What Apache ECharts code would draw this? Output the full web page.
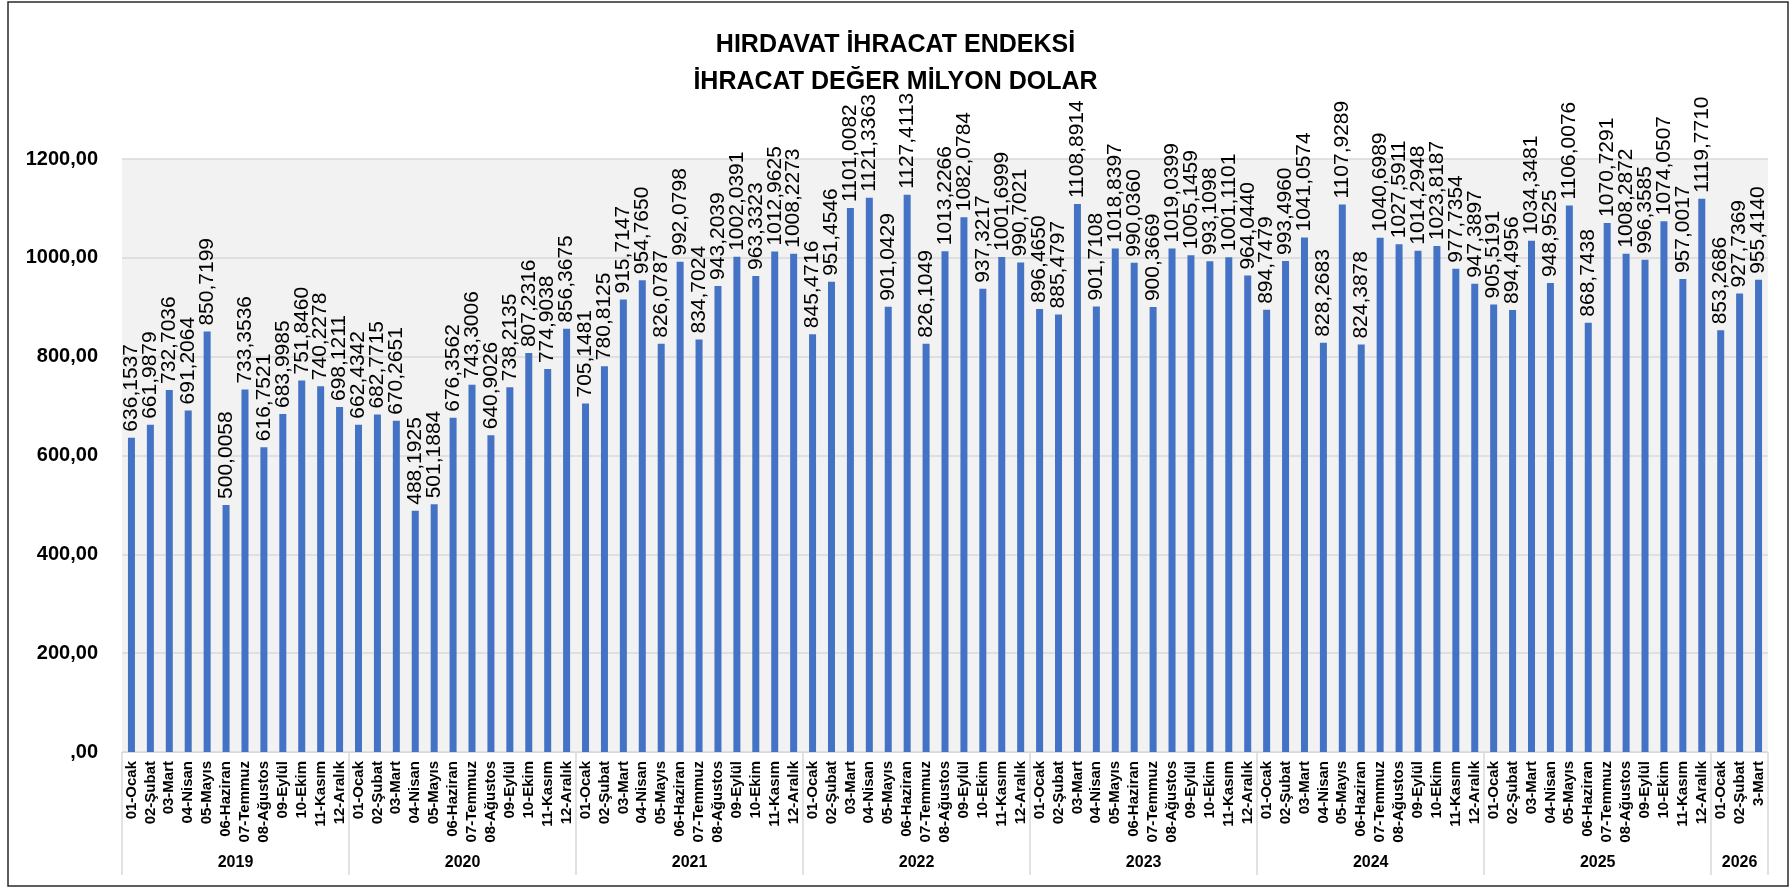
<!DOCTYPE html>
<html>
<head>
<meta charset="utf-8">
<script src="https://cdn.jsdelivr.net/npm/echarts@6/dist/echarts.min.js"></script>
<style>
  html, body { margin: 0; padding: 0; background: #ffffff; }
  #chart { width: 1791px; height: 888px; }
</style>
</head>
<body>
<div id="chart"></div>
<script>
// Month labels (full year) and the partial final year
const months = ['01-Ocak', '02-Şubat', '03-Mart', '04-Nisan', '05-Mayıs', '06-Haziran',
                '07-Temmuz', '08-Ağustos', '09-Eylül', '10-Ekim', '11-Kasım', '12-Aralık'];
const months2026 = ['01-Ocak', '02-Şubat', '3-Mart'];

const years = ['2019', '2020', '2021', '2022', '2023', '2024', '2025', '2026'];

// Monthly export value, million USD
const v2019 = [636.1537, 661.9879, 732.7036, 691.2064, 850.7199, 500.0058, 733.3536, 616.7521, 683.9985, 751.8460, 740.2278, 698.1211];
const v2020 = [662.4342, 682.7715, 670.2651, 488.1925, 501.1884, 676.3562, 743.3006, 640.9026, 738.2135, 807.2316, 774.9038, 856.3675];
const v2021 = [705.1481, 780.8125, 915.7147, 954.7650, 826.0787, 992.0798, 834.7024, 943.2039, 1002.0391, 963.3323, 1012.9625, 1008.2273];
const v2022 = [845.4716, 951.4546, 1101.0082, 1121.3363, 901.0429, 1127.4113, 826.1049, 1013.2266, 1082.0784, 937.3217, 1001.6999, 990.7021];
const v2023 = [896.4650, 885.4797, 1108.8914, 901.7108, 1018.8397, 990.0360, 900.3669, 1019.0399, 1005.1459, 993.1098, 1001.1101, 964.0440];
const v2024 = [894.7479, 993.4960, 1041.0574, 828.2683, 1107.9289, 824.3878, 1040.6989, 1027.5911, 1014.2948, 1023.8187, 977.7354, 947.3897];
const v2025 = [905.5191, 894.4956, 1034.3481, 948.9525, 1106.0076, 868.7438, 1070.7291, 1008.2872, 996.3585, 1074.0507, 957.0017, 1119.7710];
const v2026 = [853.2686, 927.7369, 955.4140];

const yearValues = [v2019, v2020, v2021, v2022, v2023, v2024, v2025, v2026];
const yearMonths = [months, months, months, months, months, months, months, months2026];

const categories = yearMonths.flat();
const values = yearValues.flat();

// Group boundaries and centres for the year row under the month labels
const boundaries = [0];
const centers = [];
yearValues.forEach(arr => {
  const start = boundaries[boundaries.length - 1];
  centers.push(start + arr.length / 2);
  boundaries.push(start + arr.length);
});

const FONT = "'Liberation Sans', Arial, sans-serif";
const fmtComma = (v, d) => v.toFixed(d).replace('.', ',');

const chart = echarts.init(document.getElementById('chart'), null, { renderer: 'canvas' });

chart.setOption({
  animation: false,
  backgroundColor: '#ffffff',
  title: {
    text: 'HIRDAVAT İHRACAT ENDEKSİ\nİHRACAT DEĞER MİLYON DOLAR',
    left: 'center',
    top: 22,
    textStyle: {
      fontFamily: FONT,
      fontSize: 25,
      fontWeight: 'bold',
      color: '#000000',
      lineHeight: 37,
      align: 'center'
    }
  },
  graphic: [{
    type: 'rect',
    shape: { x: 8, y: 2, width: 1780, height: 884 },
    style: { fill: 'none', stroke: '#2a2a2a', lineWidth: 1.5 },
    z: 100
  }],
  grid: {
    left: 122,
    right: 23,
    top: 159,
    bottom: 136,
    show: true,
    backgroundColor: '#f2f2f2',
    borderWidth: 0
  },
  xAxis: [{
    type: 'category',
    data: categories,
    boundaryGap: true,
    axisLine: { show: true, lineStyle: { color: '#d9d9d9', width: 1 } },
    axisTick: { show: false },
    axisLabel: {
      interval: 0,
      rotate: 90,
      margin: 9,
      fontFamily: FONT,
      fontSize: 15,
      fontWeight: 'bold',
      color: '#000000'
    }
  }, {
    type: 'value',
    position: 'bottom',
    min: 0,
    max: values.length,
    axisLine: { show: false },
    splitLine: { show: false },
    axisTick: {
      show: true,
      customValues: boundaries,
      length: 123,
      lineStyle: { color: '#d9d9d9', width: 1.5 }
    },
    axisLabel: {
      show: true,
      customValues: centers,
      margin: 103,
      formatter: v => years[centers.indexOf(v)] || '',
      fontFamily: FONT,
      fontSize: 16,
      fontWeight: 'bold',
      color: '#000000'
    }
  }],
  yAxis: {
    type: 'value',
    min: 0,
    max: 1200,
    interval: 200,
    axisLine: { show: false },
    axisTick: { show: false },
    splitLine: { lineStyle: { color: '#d9d9d9', width: 1.5 } },
    axisLabel: {
      margin: 24,
      formatter: v => (v === 0 ? ',00' : fmtComma(v, 2)),
      fontFamily: FONT,
      fontSize: 20,
      fontWeight: 'bold',
      color: '#000000'
    }
  },
  series: [{
    type: 'bar',
    xAxisIndex: 0,
    data: values,
    barWidth: 7,
    itemStyle: { color: '#4472c4' },
    label: {
      show: true,
      position: 'top',
      rotate: 90,
      align: 'left',
      verticalAlign: 'middle',
      distance: 6,
      formatter: p => fmtComma(p.value, 4),
      fontFamily: FONT,
      fontSize: 21,
      color: '#000000'
    }
  }]
});
</script>
</body>
</html>
